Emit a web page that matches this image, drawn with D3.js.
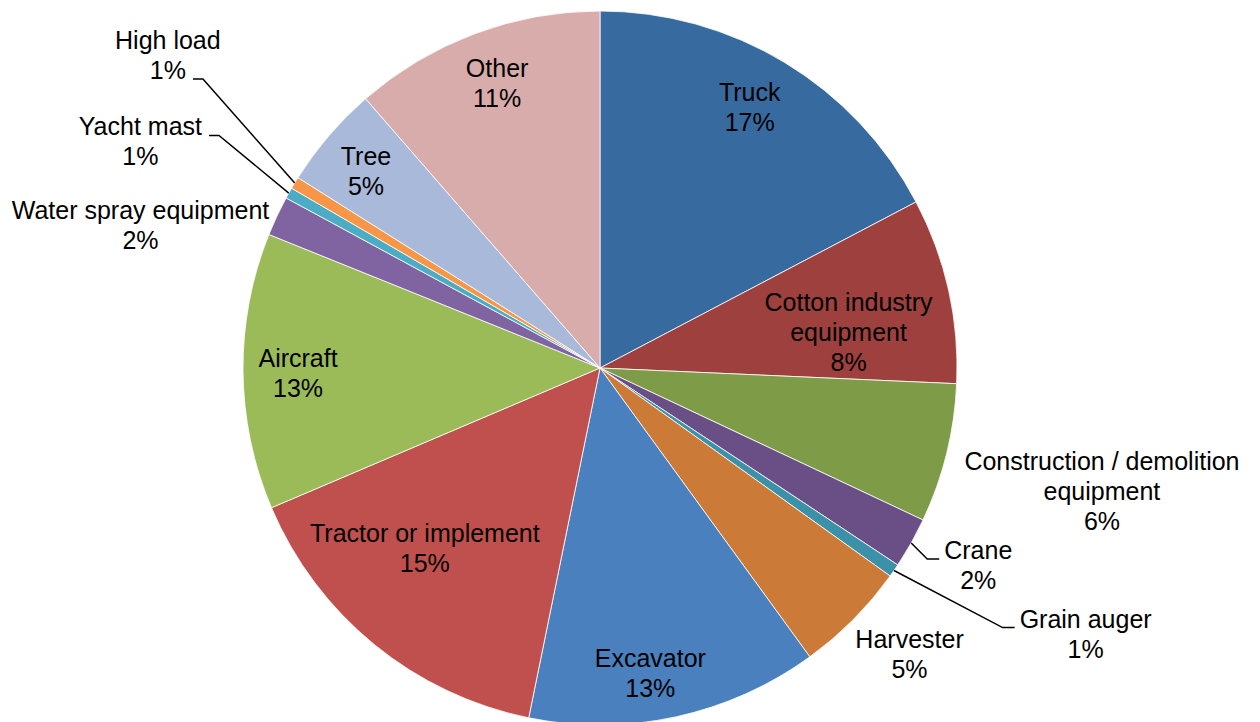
<!DOCTYPE html>
<html>
<head>
<meta charset="utf-8">
<script src="https://cdn.jsdelivr.net/npm/d3@7"></script>
<style>
  html, body { margin: 0; padding: 0; background: #ffffff; }
  svg { display: block; }
</style>
</head>
<body>
<svg id="chart" width="1260" height="722"></svg>
<script>
// ---- Data (share of incidents, %) ----
const categories = [
  "Truck", "Cotton industry equipment", "Construction / demolition equipment",
  "Crane", "Grain auger", "Harvester", "Excavator", "Tractor or implement",
  "Aircraft", "Water spray equipment", "Yacht mast", "High load", "Tree", "Other"
];
const values = [17.3, 8.4, 6.3, 2.3, 0.6, 5.1, 13.2, 15.4, 12.5, 1.8, 0.5, 0.55, 4.65, 11.4];
const percentLabels = ["17%", "8%", "6%", "2%", "1%", "5%", "13%", "15%", "13%", "2%", "1%", "1%", "5%", "11%"];

// ---- Styles / layout ----
const colors = [
  "#376A9F", "#9E403D", "#7E9B47", "#6A4F87", "#3A91A8", "#CC7A37", "#4A80BE",
  "#C0504D", "#9BBB59", "#8064A2", "#4BACC6", "#F79646", "#A9B9D9", "#D8ACAB"
];
// label line breaks
const labelLines = {
  "Cotton industry equipment": ["Cotton industry", "equipment"],
  "Construction / demolition equipment": ["Construction / demolition", "equipment"]
};
// label placement: radius (px) and angular nudge (deg) from slice mid-angle;
// leader: side of text the line attaches to and which text line
const labelPlace = [
  {r: 300, da: -1.2},
  {r: 251, da: 4.6},
  {r: 517, da: 0.0},
  {r: 427, da: -1.7, leader: {side: "left", line: 0}},
  {r: 554, da: -5.8, leader: {side: "left", line: 0}},
  {r: 422, da: -2.0},
  {r: 310, da: 2.9},
  {r: 252, da: 4.8},
  {r: 302, da: -0.6},
  {r: 481, da: -8.0},
  {r: 512, da: -3.2, leader: {side: "right", line: 0}},
  {r: 533, da: 4.6, leader: {side: "right", line: 1}},
  {r: 305, da: -0.7},
  {r: 302, da: 0.6}
];

const W = 1260, H = 722;
const cx = 600, cy = 368, R = 357;
const fontSize = 25, lineH = 30, capH = 18;

const svg = d3.select("#chart");
const g = svg.append("g").attr("transform", `translate(${cx},${cy})`);

const pie = d3.pie().sort(null).value(d => d.value);
const data = categories.map((c, i) => ({name: c, value: values[i], pct: percentLabels[i], color: colors[i], place: labelPlace[i]}));
const arcs = pie(data);
const arc = d3.arc().innerRadius(0).outerRadius(R);

g.selectAll("path.slice")
  .data(arcs)
  .join("path")
  .attr("class", "slice")
  .attr("d", arc)
  .attr("fill", d => d.data.color)
  .attr("stroke", "#ffffff")
  .attr("stroke-width", 0.8);

const polar = (a, r) => [r * Math.sin(a), -r * Math.cos(a)];
const toRad = Math.PI / 180;

const labels = g.append("g").attr("class", "labels");
arcs.forEach(d => {
  const mid = (d.startAngle + d.endAngle) / 2;
  const p = d.data.place;
  const [lx, ly] = polar(mid + p.da * toRad, p.r);
  const lines = (labelLines[d.data.name] || [d.data.name]).concat([d.data.pct]);
  const n = lines.length;
  const t = labels.append("text")
    .attr("text-anchor", "middle")
    .attr("font-family", "'Liberation Sans', Arial, sans-serif")
    .attr("font-size", fontSize)
    .attr("fill", "#000000");
  const baselines = [];
  lines.forEach((ln, i) => {
    const by = ly - 1 + (i - (n - 1) / 2) * lineH + capH / 2;
    baselines.push(by);
    t.append("tspan").attr("x", lx).attr("y", by).text(ln);
  });
  if (p.leader) {
    const tspan = t.selectAll("tspan").nodes()[p.leader.line];
    const w = tspan.getComputedTextLength();
    const by = baselines[p.leader.line];
    const [sx, sy] = polar(mid, R);
    let ex, elx;
    if (p.leader.side === "left") {
      ex = lx - w / 2 - 5;
      elx = ex - 12;
    } else {
      ex = lx + w / 2 + 7;
      elx = ex + 10;
    }
    labels.append("polyline")
      .attr("points", [[sx, sy], [elx, by], [ex, by]].map(q => q.join(",")).join(" "))
      .attr("fill", "none")
      .attr("stroke", "#000000")
      .attr("stroke-width", 1.5);
  }
});
</script>
</body>
</html>
